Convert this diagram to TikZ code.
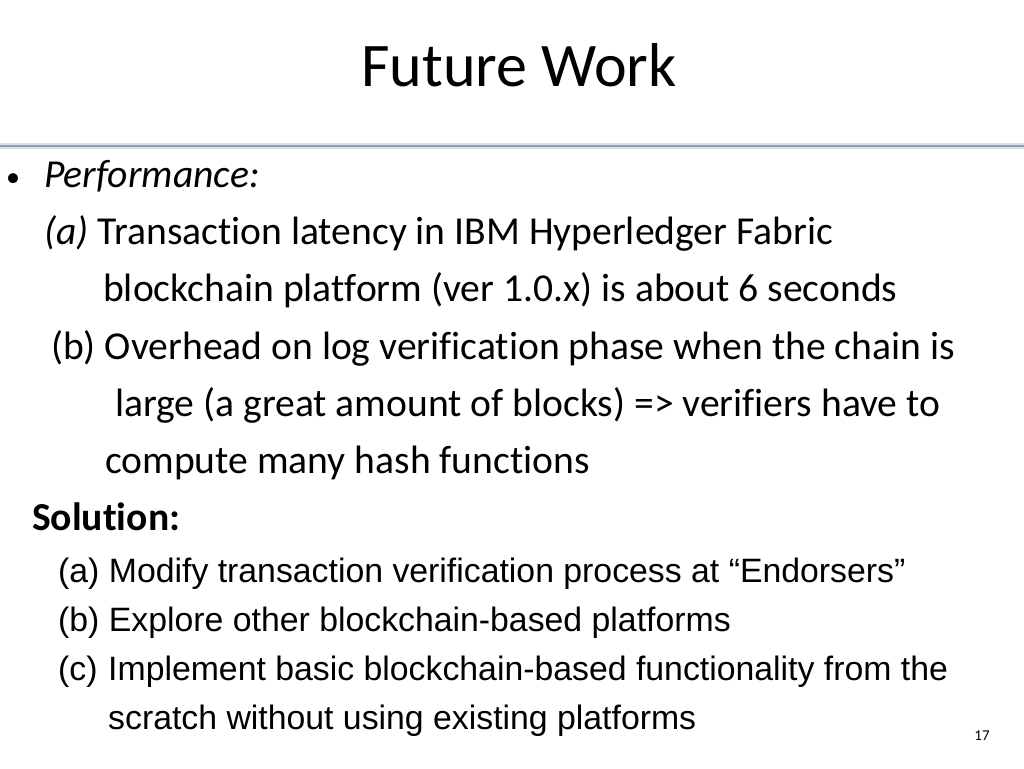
\documentclass[tikz,border=0pt]{standalone}
\usepackage{fontspec}
\setmainfont[Ligatures=NoCommon]{Carlito}
\newfontfamily\arialf{Liberation Sans}
\begin{document}
\begin{tikzpicture}[x=1pt,y=1pt,
  body/.style={anchor=base west,inner sep=0pt,font=\fontsize{39.6}{40}\selectfont},
  ar/.style={anchor=base west,inner sep=0pt,font=\arialf\fontsize{33.8}{34}\selectfont}]
\useasboundingbox (0,0) rectangle (1024,-768);
\fill[white] (0,0) rectangle (1024,-768);
\node[anchor=base,inner sep=0pt,font=\fontsize{62}{62}\selectfont] (title) at (519,-86) {Future Work};
\fill[gray!25] (0,-143) rectangle (1024,-149);
\draw[line width=2pt,color={rgb,255:red,140;green,160;blue,195}] (0,-145.5) -- (1024,-145.5);
\node[body,font=\fontsize{28}{28}\selectfont] (bul) at (6,-186) {•};
\node[body] (l1) at (44,-187) {\itshape Performance:};
\node[body] (l2) at (44,-244) {\textit{(a)} Transaction latency in IBM Hyperledger Fabric};
\node[body] (l3) at (103,-301) {blockchain platform (ver 1.0.x) is about 6 seconds};
\node[body] (l4) at (51,-359) {(b) Overhead on log verification phase when the chain is};
\node[body] (l5) at (115,-416) {large (a great amount of blocks) => verifiers have to};
\node[body] (l6) at (105,-473) {compute many hash functions};
\node[body] (sol) at (32,-530) {\bfseries Solution:};
\node[ar] (s1) at (58,-582) {(a) Modify transaction verification process at “Endorsers”};
\node[ar] (s2) at (58,-631) {(b) Explore other blockchain-based platforms};
\node[ar] (s3a) at (58,-680) {(c)};
\node[ar] (s3) at (108,-680) {Implement basic blockchain-based functionality from the};
\node[ar] (s4) at (108,-729) {scratch without using existing platforms};
\node[anchor=base,inner sep=0pt,font=\fontsize{15}{15}\selectfont] (pg) at (982,-740) {17};
\end{tikzpicture}
\end{document}
